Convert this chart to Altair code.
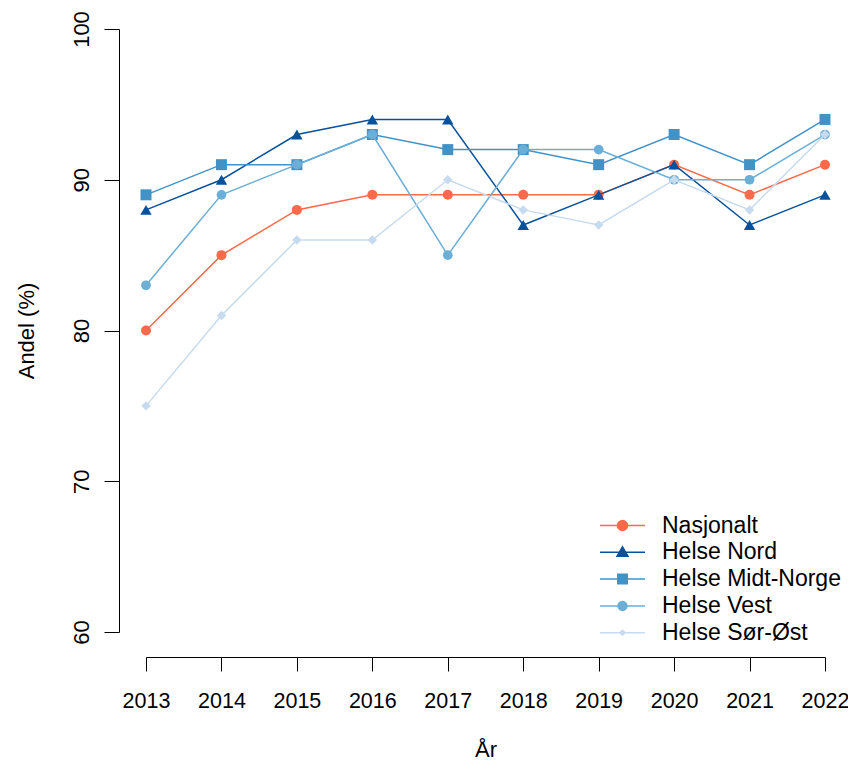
import altair as alt
import pandas as pd

years = [2013, 2014, 2015, 2016, 2017, 2018, 2019, 2020, 2021, 2022]
regions = ["Nasjonalt", "Helse Nord", "Helse Midt-Norge", "Helse Vest", "Helse Sør-Øst"]
nasjonalt = [80, 85, 88, 89, 89, 89, 89, 91, 89, 91]
helse_nord = [88, 90, 93, 94, 94, 87, 89, 91, 87, 89]
helse_midt = [89, 91, 91, 93, 92, 92, 91, 93, 91, 94]
helse_vest = [83, 89, 91, 93, 85, 92, 92, 90, 90, 93]
helse_sorost = [75, 81, 86, 86, 90, 88, 87, 90, 88, 93]
y_ticks = [60, 70, 80, 90, 100]

colors = ["#FB6A4A", "#08519C", "#4292C6", "#6BAED6", "#C6DBEF"]
shapes = ["circle", "triangle-up", "square", "circle", "diamond"]
sizes = [100, 130, 121, 95, 90]

series = [nasjonalt, helse_nord, helse_midt, helse_vest, helse_sorost]
rows = []
for reg, vals in zip(regions, series):
    for yr, v in zip(years, vals):
        rows.append({"År": yr, "Andel": v, "Region": reg})
df = pd.DataFrame(rows)

FONT = "Liberation Sans"
FS = 21.5
LFS = 23

line_path = "M-4.5,0H4.5"
leg_paths = [
    line_path + "M-1,0A1,1,0,1,0,1,0A1,1,0,1,0,-1,0Z",
    line_path + "M0,-1.1L1.1,0.8L-1.1,0.8Z",
    line_path + "M-0.95,-0.95H0.95V0.95H-0.95Z",
    line_path + "M-0.9,0A0.9,0.9,0,1,0,0.9,0A0.9,0.9,0,1,0,-0.9,0Z",
    line_path + "M0,-0.5L0.5,0L0,0.5L-0.5,0Z",
]

x_scale = alt.Scale(domain=[2013, 2022], nice=False, zero=False)
y_scale = alt.Scale(domain=[60, 100], nice=False, zero=False)
color_scale = alt.Scale(domain=regions, range=colors)

x_axis = alt.Axis(
    values=years, format="d", offset=25, tickSize=14, grid=False,
    domainColor="#000", tickColor="#000", labelColor="#000",
    labelFont=FONT, labelFontSize=FS, labelBaseline="alphabetic", labelPadding=36,
    labelAngle=0, labelFlush=False, labelOverlap=False,
    title="År", titleFont=FONT, titleFontSize=22, titleFontWeight="normal",
    titleColor="#000", titleBaseline="alphabetic", titleY=99, titleX=339.5,
    titleAnchor="middle", titleAlign="center",
)
y_axis = alt.Axis(
    values=y_ticks, offset=27, tickSize=15, grid=False,
    domainColor="#000", tickColor="#000", labelColor="#000",
    labelFont=FONT, labelFontSize=22, labelAngle=-90, labelAlign="center",
    labelBaseline="alphabetic", labelPadding=16, labelFlush=False, labelOverlap=False,
    title="Andel (%)", titleFont=FONT, titleFontSize=22, titleFontWeight="normal",
    titleColor="#000", titleBaseline="alphabetic", titleAngle=-90, titleX=-86,
    titleY=301.5, titleAlign="center", titleAnchor="middle",
)

base = alt.Chart(df).encode(
    x=alt.X("År:Q", scale=x_scale, axis=x_axis),
    y=alt.Y("Andel:Q", scale=y_scale, axis=y_axis),
)

layers = []
for reg, col, shp, sz in zip(regions, colors, shapes, sizes):
    sub = base.transform_filter(alt.datum.Region == reg)
    layers.append(
        sub.mark_line(strokeWidth=1.5, color=col, clip=False).encode(order="År:Q")
    )
    layers.append(
        sub.mark_point(filled=True, opacity=1, shape=shp, size=sz, color=col, clip=False)
    )

legend = alt.Legend(
    title=None, orient="none", legendX=465, legendY=485,
    labelFont=FONT, labelFontSize=LFS, labelColor="#000", labelLimit=400,
    symbolSize=100, symbolStrokeWidth=1.5, labelOffset=28, rowPadding=2.8,
    symbolOpacity=1,
)

legend_layer = base.transform_filter("false").mark_point(filled=True, opacity=1).encode(
    color=alt.Color("Region:N", scale=color_scale, legend=legend, sort=regions),
    stroke=alt.Stroke("Region:N", scale=color_scale, legend=legend, sort=regions),
    shape=alt.Shape("Region:N", scale=alt.Scale(domain=regions, range=leg_paths),
                    legend=legend, sort=regions),
)
layers.append(legend_layer)

chart = alt.layer(*layers).properties(
    width=679, height=603,
    autosize=alt.AutoSizeParams(type="none"),
    padding={"left": 138, "top": 21, "right": 23, "bottom": 130},
).configure(background="white").configure_view(strokeWidth=0, stroke="transparent")

chart.save("out.html", embed_options={"renderer": "svg", "actions": False})
